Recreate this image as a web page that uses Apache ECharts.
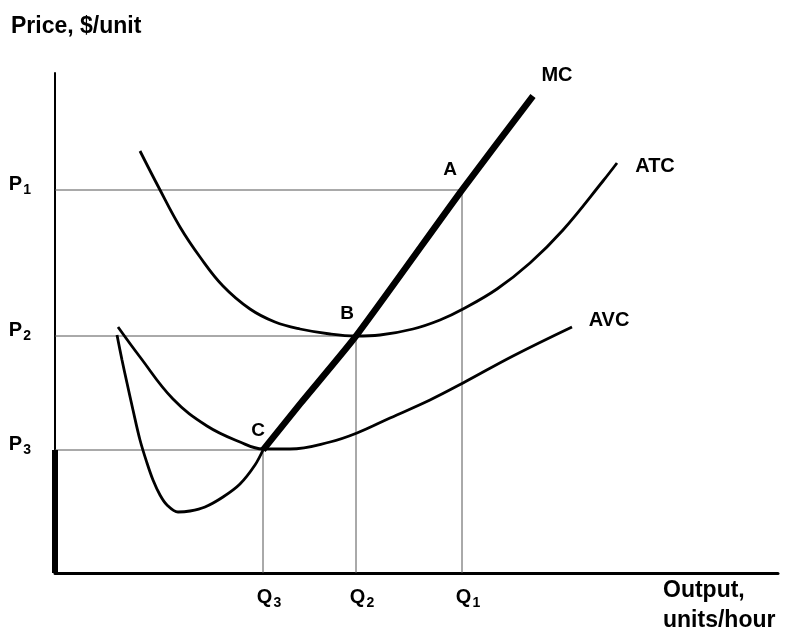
<!DOCTYPE html>
<html><head><meta charset="utf-8">
<script src="https://cdn.jsdelivr.net/npm/echarts@6/dist/echarts.min.js"></script>
<style>html,body{margin:0;padding:0;background:#fff}#c{width:785px;height:635px}</style>
</head><body><div id="c"></div>
<script>
// Output levels Q3, Q2, Q1 and price levels P3, P2, P1 (chart units)
const quantities = [208, 301, 407];
const prices = [123, 237, 383];
const qTickSubs = ['3', '2', '1'];
const pTickSubs = ['3', '2', '1'];
const qTickBase = 'Q';
const pTickBase = 'P';

// Marginal cost: thin falling part up to C, thick rising part from C
const mcLower = [[62,238],[67,213],[72,190],[78,163],[85,133],[92,110],[98,93],[105,78],[112,68],[123,61],[135,62],[150,66],[168,76],[185,89],[200,108],[208,123]];
const mcUpper = [[208,123],[245,169],[301,237],[407,383],[478,477]];
// Average total cost
const atc = [[85,422],[104,385],[125,346],[145,316],[168,287],[195,264],[220,251],[245,244],[275,239],[301,237],[325,238],[358,244],[385,253],[408,264],[442,284],[475,310],[508,343],[548,392],[562,410]];
// Average variable cost
const avc = [[63,246],[85,216],[118,174],[152,147],[185,131],[208,124],[235,124],[275,131],[302,140],[335,155],[375,173],[408,190],[458,217],[517,246]];

const curveNames = ['MC', 'ATC', 'AVC'];
const pointNames = ['C', 'B', 'A'];

const FONT = '"Liberation Sans", Arial, Helvetica, sans-serif';
const chart = echarts.init(document.getElementById('c'));

function lbl(text, off, size) {
  return {show: true, position: 'inside', offset: off, formatter: text,
    fontFamily: FONT, fontWeight: 'bold', fontSize: size || 20, color: '#000'};
}
function items(arr, labels) {
  return arr.map((p, i) => labels[i] ? {value: p, label: labels[i]} : {value: p});
}
const curveBase = {type: 'line', symbol: 'circle', symbolSize: 0, showSymbol: true,
  silent: true, clip: false, label: {show: false}, z: 5};

const guideSeries = quantities.map((q, i) => ({
  type: 'line', symbol: 'none', silent: true, z: 2,
  lineStyle: {color: '#555', width: 1},
  data: [[0, prices[i]], [q, prices[i]], [q, 0]]
}));

const richSub = {fontSize: 14, fontWeight: 'bold', fontFamily: FONT, color: '#000', lineHeight: 14, padding: [13, 0, 0, 1]};

chart.setOption({
  animation: false,
  backgroundColor: '#fff',
  grid: {left: 55, right: 7, top: 73, bottom: 62},
  xAxis: {
    type: 'value', min: 0, max: 723,
    axisLine: {show: true, lineStyle: {color: '#000', width: 3}},
    axisTick: {show: false}, splitLine: {show: false},
    axisLabel: {
      customValues: quantities, margin: 14,
      formatter: v => '{q|' + qTickBase + '}{s|' + qTickSubs[quantities.indexOf(v)] + '}',
      rich: {q: {fontSize: 20, fontWeight: 'bold', fontFamily: FONT, color: '#000', lineHeight: 20, padding: [0, 0, 0, 12]}, s: richSub}
    }
  },
  yAxis: {
    type: 'value', min: 0, max: 500,
    axisLine: {show: true, lineStyle: {color: '#000', width: 2}},
    axisTick: {show: false}, splitLine: {show: false},
    axisLabel: {
      customValues: prices, margin: 24, padding: [0, 0, 12, 0],
      formatter: v => '{p|' + pTickBase + '}{s|' + pTickSubs[prices.indexOf(v)] + '}',
      rich: {p: {fontSize: 20, fontWeight: 'bold', fontFamily: FONT, color: '#000', lineHeight: 20}, s: richSub}
    }
  },
  graphic: [
    {type: 'text', left: 11, top: 15, style: {text: 'Price, $/unit', font: 'bold 23px ' + FONT, fill: '#000'}},
    {type: 'text', left: 663, top: 576, style: {text: 'Output,\nunits/hour', font: 'bold 23px ' + FONT, lineHeight: 30, fill: '#000'}}
  ],
  series: guideSeries.concat([
    {type: 'line', symbol: 'none', silent: true, clip: false, z: 4,
      lineStyle: {color: '#000', width: 6}, data: [[0, 0], [0, prices[0]]]},
    Object.assign({}, curveBase, {smooth: 0.4, lineStyle: {color: '#000', width: 2.8},
      data: items(atc, {[atc.length - 1]: lbl(curveNames[1], [38, 3])})}),
    Object.assign({}, curveBase, {smooth: 0.4, lineStyle: {color: '#000', width: 2.8},
      data: items(avc, {[avc.length - 1]: lbl(curveNames[2], [37, -7])})}),
    Object.assign({}, curveBase, {smooth: 0.35, lineStyle: {color: '#000', width: 2.8},
      data: items(mcLower, {})}),
    Object.assign({}, curveBase, {smooth: 0.2, z: 6, lineStyle: {color: '#000', width: 6.5, cap: 'butt'},
      data: items(mcUpper, {
        0: lbl(pointNames[0], [-5, -19], 19),
        2: lbl(pointNames[1], [-9, -22], 19),
        3: lbl(pointNames[2], [-12, -20], 19),
        4: lbl(curveNames[0], [24, -21])
      })})
  ])
});
</script>
</body></html>
